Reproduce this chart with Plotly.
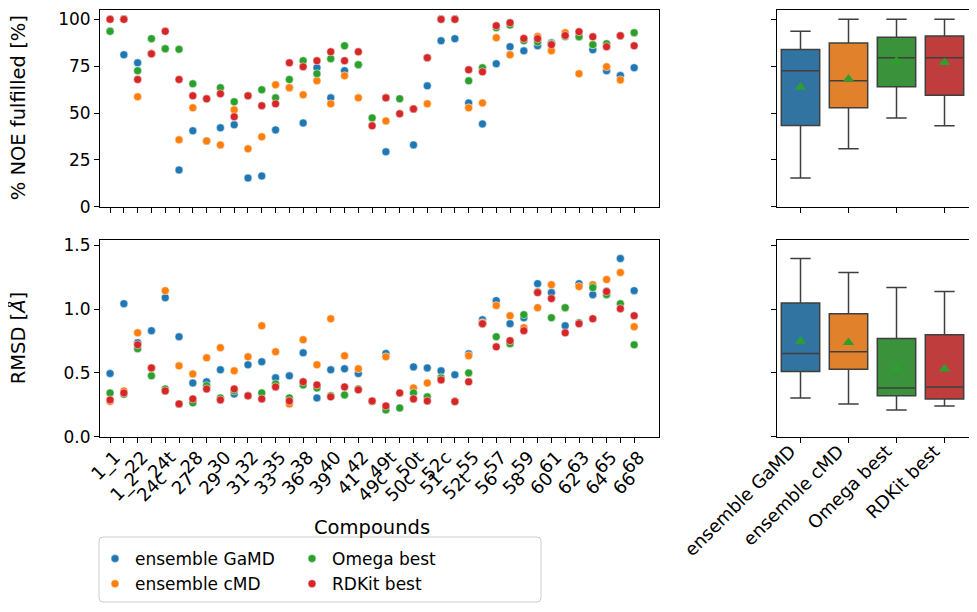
import numpy as np
import plotly.graph_objects as go

compounds = ["1_1", "1_2", "22", "24c", "24t", "27", "28", "29", "30", "31", "32", "33", "35",
             "36", "38", "39", "40", "41", "42", "49c", "49t", "50c", "50t", "51", "52c", "52t",
             "55", "56", "57", "58", "59", "60", "61", "62", "63", "64", "65", "66", "68"]

# % NOE fulfilled
noe_gamd = [93.6, 81.1, 76.8, 81.6, 84.3, 19.6, 40.5, 35.1, 42.1, 43.7, 15.3, 16.4, 41.0,
            63.5, 44.7, 74.2, 58.1, 72.6, 75.8, None, 29.3, None, 33.0, 64.5, 88.6, 89.7,
            55.4, 44.2, 76.3, 85.4, 83.2, 85.9, 87.5, 91.0, 90.7, 83.8, 72.6, 70.0, 74.2]
noe_cmd = [100, 100, 58.7, 81.6, 84.3, 35.7, 52.8, 35.1, 33.0, 51.7, 30.9, 37.3, 65.1,
           63.5, 59.7, 67.2, 54.9, 69.9, 58.1, None, 45.8, None, 52.2, 54.9, 100, 100,
           52.8, 55.4, 90.2, 81.1, 89.8, 90.9, 83.2, 92.9, 71.0, 86.5, 74.7, 67.7, 92.9]
noe_omega = [93.6, 100, 72.6, 89.7, 84.3, 84.0, 65.6, 57.6, 63.5, 56.0, 59.2, 62.4, 58.1,
             67.9, 77.9, 71.0, 79.0, 85.9, 75.8, 47.4, 58.1, 57.6, 52.2, 79.5, 100, 100,
             67.2, 74.2, 95.5, 97.0, 88.6, 87.9, 87.0, 90.9, 90.7, 86.5, 87.0, 91.3, 92.9]
noe_rdkit = [100, 100, 67.9, 81.6, 93.6, 67.9, 59.2, 57.6, 60.3, 48.0, 59.2, 53.9, 54.9,
             76.8, 74.7, 77.9, 82.7, 77.9, 82.7, 43.2, 58.1, 49.6, 52.2, 79.5, 100, 100,
             73.1, 72.0, 96.6, 98.2, 89.8, 89.7, 86.5, 91.4, 93.4, 90.7, 85.4, 91.3, 85.9]

# RMSD [A]
rmsd_gamd = [0.495, 1.042, 0.736, 0.830, 1.089, 0.783, 0.421, 0.430, 0.524, 0.335, 0.563, 0.587, 0.461,
             0.477, 0.657, 0.304, 0.524, 0.532, 0.495, None, 0.652, None, 0.547, 0.539, 0.516, 0.485,
             0.649, 0.916, 1.066, 0.885, 0.932, 1.199, 1.129, 0.869, 1.199, 1.113, 1.137, 1.396, 1.144]
rmsd_cmd = [0.275, 0.359, 0.814, 0.539, 1.144, 0.555, 0.492, 0.618, 0.697, 0.516, 0.626, 0.869, 0.665,
            0.257, 0.760, 0.563, 0.924, 0.634, 0.532, None, 0.626, None, 0.382, 0.421, 0.461, 0.275,
            0.634, 0.893, 1.027, 0.948, 0.854, 1.011, 1.191, 1.011, 1.176, 1.191, 1.231, 1.286, 0.862]
rmsd_omega = [0.343, 0.332, 0.689, 0.477, 0.374, 0.257, 0.265, 0.400, 0.304, 0.359, 0.320, 0.343, 0.414,
              0.304, 0.406, 0.382, 0.320, 0.327, 0.374, 0.275, 0.210, 0.225, 0.343, 0.312, 0.461, 0.275,
              0.500, 0.885, 0.783, 0.728, 0.956, 1.134, 0.932, 1.011, 0.893, 1.168, 1.113, 1.042, 0.720]
rmsd_rdkit = [0.288, 0.343, 0.720, 0.539, 0.359, 0.257, 0.296, 0.374, 0.288, 0.374, 0.320, 0.296, 0.390,
              0.280, 0.430, 0.406, 0.312, 0.390, 0.367, 0.280, 0.241, 0.343, 0.296, 0.280, 0.445, 0.275,
              0.430, 0.885, 0.704, 0.752, 0.830, 1.129, 1.082, 0.814, 0.885, 0.924, 1.137, 1.003, 0.948]

series_names = ["ensemble GaMD", "ensemble cMD", "Omega best", "RDKit best"]
noe_series = [noe_gamd, noe_cmd, noe_omega, noe_rdkit]
rmsd_series = [rmsd_gamd, rmsd_cmd, rmsd_omega, rmsd_rdkit]

noe_ticks = [0, 25, 50, 75, 100]
rmsd_ticks = [0.0, 0.5, 1.0, 1.5]

point_colors = ["#1f77b4", "#ff7f0e", "#2ca02c", "#d62728"]
box_colors = ["#3274a1", "#e1812c", "#3a923a", "#c03d3e"]
FONT = "DejaVu Sans"
FS = 17        # y tick labels, legend
FS_X = 18      # rotated x tick labels
FS_LAB = 19.5  # axis labels
OFF = 8  # page body margin
W, H = 977 - 2 * OFF, 612 - 2 * OFF

fig = go.Figure()
xi = list(range(len(compounds)))

for k, name in enumerate(series_names):
    leg = "legend" if k < 2 else "legend2"
    fig.add_trace(go.Scatter(x=xi, y=noe_series[k], mode="markers", name=name,
                             marker=dict(color=point_colors[k], size=8, line=dict(color="white", width=0.5)),
                             xaxis="x", yaxis="y", legend=leg, showlegend=True))
for k, name in enumerate(series_names):
    fig.add_trace(go.Scatter(x=xi, y=rmsd_series[k], mode="markers", name=name,
                             marker=dict(color=point_colors[k], size=8, line=dict(color="white", width=0.5)),
                             xaxis="x2", yaxis="y2", showlegend=False))
# carrier trace so the staggered label axis is drawn
fig.add_trace(go.Scatter(x=[None], y=[None], xaxis="x5", yaxis="y2", showlegend=False, hoverinfo="skip"))

def clean(v):
    return np.array([np.nan if a is None else a for a in v], dtype=float)

for axx, axy, data in [("x3", "y3", noe_series), ("x4", "y4", rmsd_series)]:
    for k, name in enumerate(series_names):
        vals = clean(data[k])
        vals = vals[~np.isnan(vals)]
        fig.add_trace(go.Box(y=vals, x=[name] * len(vals), name=name, xaxis=axx, yaxis=axy,
                             fillcolor=box_colors[k], line=dict(color="#3f3f3f", width=1.5),
                             boxpoints=False, width=0.8, whiskerwidth=0.53, showlegend=False,
                             quartilemethod="linear"))
    means = [float(np.nanmean(clean(d))) for d in data]
    fig.add_trace(go.Scatter(x=series_names, y=means, mode="markers", xaxis=axx, yaxis=axy,
                             marker=dict(symbol="triangle-up", color="#2ca02c", size=10),
                             showlegend=False))

odd_vals = [i for i in xi if i % 2 == 1]
odd_text = [compounds[i] for i in odd_vals]

def px_x(p):
    return (p - OFF) / W

def px_y(p):
    return 1 - (p - OFF) / H

left_dom = [px_x(100), px_x(659)]
right_dom = [px_x(776.5), px_x(968.5)]
top_dom = [px_y(206.7), px_y(10)]
bot_dom = [px_y(436.7), px_y(240)]
xrange_left = [-0.73, 39.8]

def ax(**kw):
    d = dict(showline=True, linecolor="black", linewidth=1, mirror=True, ticks="outside",
             ticklen=5, tickwidth=1, tickcolor="black", showgrid=False, zeroline=False,
             automargin=False, tickfont=dict(family=FONT, size=FS, color="black"))
    d.update(kw)
    return d

xfont = dict(family=FONT, size=FS_X, color="black")

fig.update_layout(
    width=W, height=H, margin=dict(l=0, r=0, t=0, b=0, autoexpand=False),
    paper_bgcolor="white", plot_bgcolor="white", boxmode="overlay",
    font=dict(family=FONT, size=FS, color="black"),
    xaxis=ax(domain=left_dom, anchor="y", range=xrange_left, tickvals=xi, showticklabels=False),
    yaxis=ax(domain=top_dom, anchor="x", range=[0, 105], tickvals=noe_ticks),
    xaxis2=ax(domain=left_dom, anchor="y2", range=xrange_left, tickvals=xi,
              ticktext=[c if i % 2 == 0 else "" for i, c in enumerate(compounds)],
              tickangle=-45, tickfont=xfont, ticklabelstandoff=-3, ticklabelshift=5),
    xaxis5=ax(domain=left_dom, anchor="free", position=px_y(436.7 + 21), overlaying="x2",
              range=xrange_left, tickvals=odd_vals, ticktext=odd_text, tickangle=-45, tickfont=xfont,
              showline=False, mirror=False, tickcolor="rgba(0,0,0,0)",
              ticklabelstandoff=-3, ticklabelshift=10),
    yaxis2=ax(domain=bot_dom, anchor="x2", range=[0, 1.541], tickvals=rmsd_ticks,
              ticktext=[f"{t:.1f}" for t in rmsd_ticks]),
    xaxis3=ax(domain=right_dom, anchor="y3", type="category", range=[-0.5, 3.5], showticklabels=False),
    yaxis3=ax(domain=top_dom, anchor="x3", range=[0, 105], tickvals=noe_ticks, showticklabels=False),
    xaxis4=ax(domain=right_dom, anchor="y4", type="category", range=[-0.5, 3.5], tickangle=-45,
              tickfont=xfont, ticklabelstandoff=-9, ticklabelshift=-10),
    yaxis4=ax(domain=bot_dom, anchor="x4", range=[0, 1.541], tickvals=rmsd_ticks, showticklabels=False),
    legend=dict(x=px_x(95), y=px_y(541), xanchor="left", yanchor="top", bgcolor="rgba(0,0,0,0)",
                font=dict(family=FONT, size=FS), orientation="v", tracegroupgap=0),
    legend2=dict(x=px_x(292), y=px_y(541), xanchor="left", yanchor="top", bgcolor="rgba(0,0,0,0)",
                 font=dict(family=FONT, size=FS), orientation="v", tracegroupgap=0),
)

# legend frame
x0, x1, y0, y1 = 99, 541, 537, 602
r = 4
path = (f"M {px_x(x0 + r)} {px_y(y0)} L {px_x(x1 - r)} {px_y(y0)} Q {px_x(x1)} {px_y(y0)} {px_x(x1)} {px_y(y0 + r)} "
        f"L {px_x(x1)} {px_y(y1 - r)} Q {px_x(x1)} {px_y(y1)} {px_x(x1 - r)} {px_y(y1)} "
        f"L {px_x(x0 + r)} {px_y(y1)} Q {px_x(x0)} {px_y(y1)} {px_x(x0)} {px_y(y1 - r)} "
        f"L {px_x(x0)} {px_y(y0 + r)} Q {px_x(x0)} {px_y(y0)} {px_x(x0 + r)} {px_y(y0)} Z")
fig.add_shape(type="path", path=path, xref="paper", yref="paper",
              line=dict(color="#cccccc", width=1), fillcolor="rgba(255,255,255,0.8)", layer="below")

labfont = dict(family=FONT, size=FS_LAB, color="black")
fig.add_annotation(text="Compounds", x=px_x(372), y=px_y(527), xref="paper", yref="paper",
                   showarrow=False, xanchor="center", yanchor="middle", font=labfont)
fig.add_annotation(text="% NOE fulfilled [%]", x=px_x(18), y=(top_dom[0] + top_dom[1]) / 2, xref="paper",
                   yref="paper", showarrow=False, textangle=-90, xanchor="center", yanchor="middle",
                   font=labfont)
fig.add_annotation(text="RMSD [<i>Å</i>]", x=px_x(18), y=(bot_dom[0] + bot_dom[1]) / 2, xref="paper",
                   yref="paper", showarrow=False, textangle=-90, xanchor="center", yanchor="middle",
                   font=labfont)

fig.write_html("out.html")
